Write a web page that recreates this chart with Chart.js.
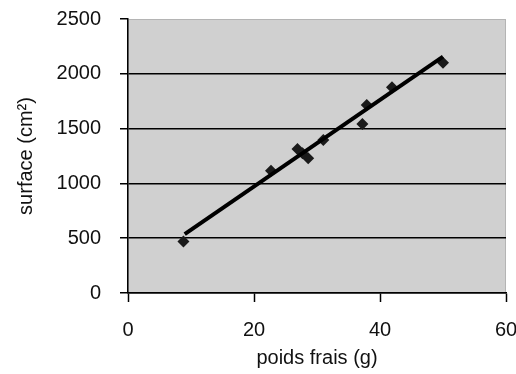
<!DOCTYPE html>
<html>
<head>
<meta charset="utf-8">
<script src="https://cdn.jsdelivr.net/npm/chart.js@4/dist/chart.umd.min.js"></script>
<style>
  html, body { margin: 0; padding: 0; background: #fff; }
  #wrap { width: 516px; height: 374px; }
</style>
</head>
<body>
<div id="wrap"><canvas id="mycanvas" width="516" height="374"></canvas></div>
<script>
// measured points: fresh weight (g) vs leaf surface (cm²)
var poids = [8.8, 22.7, 26.9, 27.7, 28.6, 31.0, 37.2, 37.9, 41.9, 50.0];
var surface = [470, 1116, 1314, 1275, 1229, 1396, 1542, 1715, 1877, 2101];

// trend line, read at its two ends
var lineX = [9, 50];
var lineY = [537, 2156];

var xTicks = [0, 20, 40, 60];
var yTicks = [0, 500, 1000, 1500, 2000, 2500];

var pts = poids.map(function (x, i) { return { x: x, y: surface[i] }; });
var fit = lineX.map(function (x, i) { return { x: x, y: lineY[i] }; });

// grey plot background
var plotBg = {
  id: 'plotBg',
  beforeDraw: function (chart) {
    var a = chart.chartArea, ctx = chart.ctx;
    ctx.save();
    ctx.fillStyle = '#d0d0d0';
    ctx.fillRect(a.left, a.top, a.right - a.left, a.bottom - a.top);
    ctx.strokeStyle = '#b4b4b4';
    ctx.lineWidth = 1;
    ctx.strokeRect(a.left + 0.5, a.top + 0.5, a.right - a.left - 1, a.bottom - a.top - 1);
    ctx.restore();
  }
};

var fontMain = { family: '"Liberation Sans", Arial, sans-serif', size: 20 };
var plain = function (v) { return String(v); };

new Chart(document.getElementById('mycanvas').getContext('2d'), {
  type: 'scatter',
  data: {
    datasets: [{
      label: 'points',
      data: pts,
      pointStyle: 'rectRot',
      pointRadius: 6,
      backgroundColor: '#1a1a1a',
      borderColor: '#1a1a1a',
      borderWidth: 0,
      order: 1
    }, {
      label: 'tendance',
      type: 'line',
      data: fit,
      showLine: true,
      borderColor: '#000',
      borderWidth: 4,
      pointRadius: 0,
      fill: false,
      order: 0
    }]
  },
  options: {
    responsive: false,
    animation: false,
    layout: { padding: { top: 19, right: 10, left: 0, bottom: 0 } },
    plugins: {
      legend: { display: false },
      tooltip: { enabled: false }
    },
    scales: {
      x: {
        type: 'linear',
        min: 0, max: 60,
        afterBuildTicks: function (s) { s.ticks = xTicks.map(function (v) { return { value: v }; }); },
        afterFit: function (s) { s.height = 81; s.paddingLeft = 0; s.paddingRight = 0; },
        border: { color: '#000', width: 1.5 },
        grid: { drawOnChartArea: false, tickLength: 9, tickColor: '#000', tickWidth: 1.5 },
        ticks: { color: '#111', font: fontMain, padding: 16, maxRotation: 0, callback: plain },
        title: { display: true, text: 'poids frais (g)', color: '#111', font: fontMain, padding: { top: 0 } }
      },
      y: {
        type: 'linear',
        min: 0, max: 2500,
        afterBuildTicks: function (s) { s.ticks = yTicks.map(function (v) { return { value: v }; }); },
        afterFit: function (s) { s.width = 128; s.paddingTop = 0; s.paddingBottom = 0; },
        border: { color: '#000', width: 1.5 },
        grid: {
          color: function (c) { return c.tick && c.tick.value === 2500 ? 'rgba(0,0,0,0)' : '#000'; },
          lineWidth: 1.5,
          tickLength: 8,
          tickColor: '#000',
          tickWidth: 1.5
        },
        ticks: { color: '#111', font: fontMain, padding: 19, callback: plain },
        title: { display: true, text: 'surface (cm²)', color: '#111', font: fontMain, padding: { top: 14, bottom: 0 } }
      }
    }
  },
  plugins: [plotBg]
});
</script>
</body>
</html>
